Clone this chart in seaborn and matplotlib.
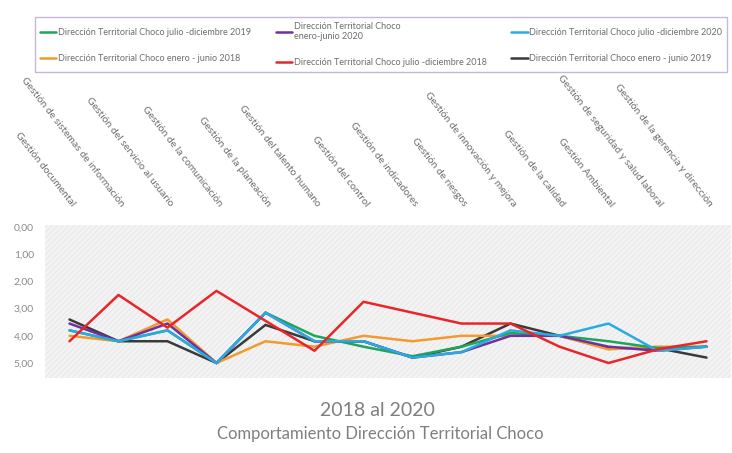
import numpy as np
import pandas as pd
import matplotlib
matplotlib.use("Agg")
import matplotlib.pyplot as plt
import seaborn as sns

procesos = ["Gestión documental", "Gestión de sistemas de información",
            "Gestión del servicio al usuario", "Gestión de la comunicación",
            "Gestión de la planeación", "Gestión del talento humano",
            "Gestión del control", "Gestión de indicadores", "Gestión de riesgos",
            "Gestión de innovación y mejora", "Gestión de la calidad",
            "Gestión Ambiental", "Gestión de seguridad y salud laboral",
            "Gestión de la gerencia y dirección"]

ene_jun_2018 = [4.0, 4.2, 3.4, 5.0, 4.2, 4.4, 4.0, 4.2, 4.0, 4.0, 4.0, 4.5, 4.4, 4.4]
jul_dic_2018 = [4.2, 2.5, 3.7, 2.35, 3.45, 4.55, 2.75, 3.15, 3.55, 3.55, 4.4, 5.0, 4.5, 4.2]
ene_jun_2019 = [3.4, 4.2, 4.2, 5.0, 3.6, 4.2, 4.2, 4.8, 4.4, 3.55, 4.0, 4.45, 4.45, 4.8]
jul_dic_2019 = [3.8, 4.2, 3.8, 5.0, 3.15, 4.0, 4.4, 4.75, 4.4, 3.9, 4.0, 4.2, 4.45, 4.4]
ene_jun_2020 = [3.55, 4.2, 3.55, 5.0, 3.15, 4.2, 4.2, 4.8, 4.6, 4.0, 4.0, 4.4, 4.55, 4.4]
jul_dic_2020 = [3.8, 4.2, 3.8, 5.0, 3.15, 4.2, 4.2, 4.8, 4.6, 3.8, 4.0, 3.55, 4.55, 4.4]

series = {
    "Dirección Territorial Choco julio -diciembre 2019": (jul_dic_2019, "#1fa55a"),
    "Dirección Territorial Choco enero - junio 2018": (ene_jun_2018, "#f39a2e"),
    "Dirección Territorial Choco\nenero-junio 2020": (ene_jun_2020, "#7030a0"),
    "Dirección Territorial Choco julio -diciembre 2018": (jul_dic_2018, "#e8262a"),
    "Dirección Territorial Choco julio -diciembre 2020": (jul_dic_2020, "#29abe2"),
    "Dirección Territorial Choco enero - junio 2019": (ene_jun_2019, "#3a3a3a"),
}

df = pd.concat([pd.DataFrame({"proceso": procesos, "valor": v, "serie": k})
                for k, (v, c) in series.items()])
palette = {k: c for k, (v, c) in series.items()}

sns.set_style("white")
plt.rcParams["font.family"] = ["Lato", "DejaVu Sans"]
plt.rcParams["hatch.color"] = "#e4e4e4"
plt.rcParams["hatch.linewidth"] = 0.6

fig = plt.figure(figsize=(7.32, 4.53), dpi=100)
ax = fig.add_axes([45/732, 1 - 378/453, 686/732, 153/453])

# drawing order so red/cyan sit on top
orden = ["Dirección Territorial Choco enero - junio 2019",
         "Dirección Territorial Choco enero - junio 2018",
         "Dirección Territorial Choco julio -diciembre 2019",
         "Dirección Territorial Choco\nenero-junio 2020",
         "Dirección Territorial Choco julio -diciembre 2020",
         "Dirección Territorial Choco julio -diciembre 2018"]
for s in orden:
    sns.lineplot(data=df[df.serie == s], x="proceso", y="valor", color=palette[s],
                 lw=1.8, sort=False, ax=ax, label=s)
ax.get_legend().remove()

ax.set_facecolor("#f3f3f3")
ax.patch.set_hatch("//////")
ax.patch.set_edgecolor("#e6e6e6")
for sp in ax.spines.values():
    sp.set_visible(False)

ax.set_xlim(-0.5, len(procesos) - 0.5)
ax.set_ylim(5.55, -0.07)
ax.set_yticks(range(6))
ax.set_yticklabels([f"{i},00" for i in range(6)], fontsize=7.5, color="#8a8a8a")
ax.tick_params(axis="y", length=0, pad=8)

ax.xaxis.tick_top()
ax.set_xticks(range(len(procesos)))
ax.set_xticklabels(procesos, rotation=-52, ha="right", va="bottom",
                   rotation_mode="anchor", fontsize=7.5, color="#6e6e6e")
ax.tick_params(axis="x", length=0, pad=12)
ax.set_xlabel("")
ax.set_ylabel("")

# legend
h, l = ax.get_legend_handles_labels()
lk = dict(zip(l, h))
leg_orden = list(series.keys())
leg = fig.legend([lk[k] for k in leg_orden], leg_orden, ncol=3, loc="lower left",
                 bbox_to_anchor=(35/732, 1 - 72/453, 692/732, 58/453), mode="expand",
                 fontsize=6.5, frameon=True, fancybox=False, handlelength=1.8,
                 handletextpad=0.2, labelcolor="#6e6e6e", borderaxespad=0,
                 borderpad=0.5, labelspacing=1.9)
leg.get_frame().set_edgecolor("#b8a6d0")
leg.get_frame().set_linewidth(1.0)

fig.text(377/732, 1 - 410/453, "2018 al 2020", ha="center", va="center",
         fontsize=14, color="#7f7f7f")
fig.text(380/732, 1 - 434/453, "Comportamiento Dirección Territorial Choco",
         ha="center", va="center", fontsize=12, color="#7f7f7f")

fig.savefig("out.png", dpi=100)
